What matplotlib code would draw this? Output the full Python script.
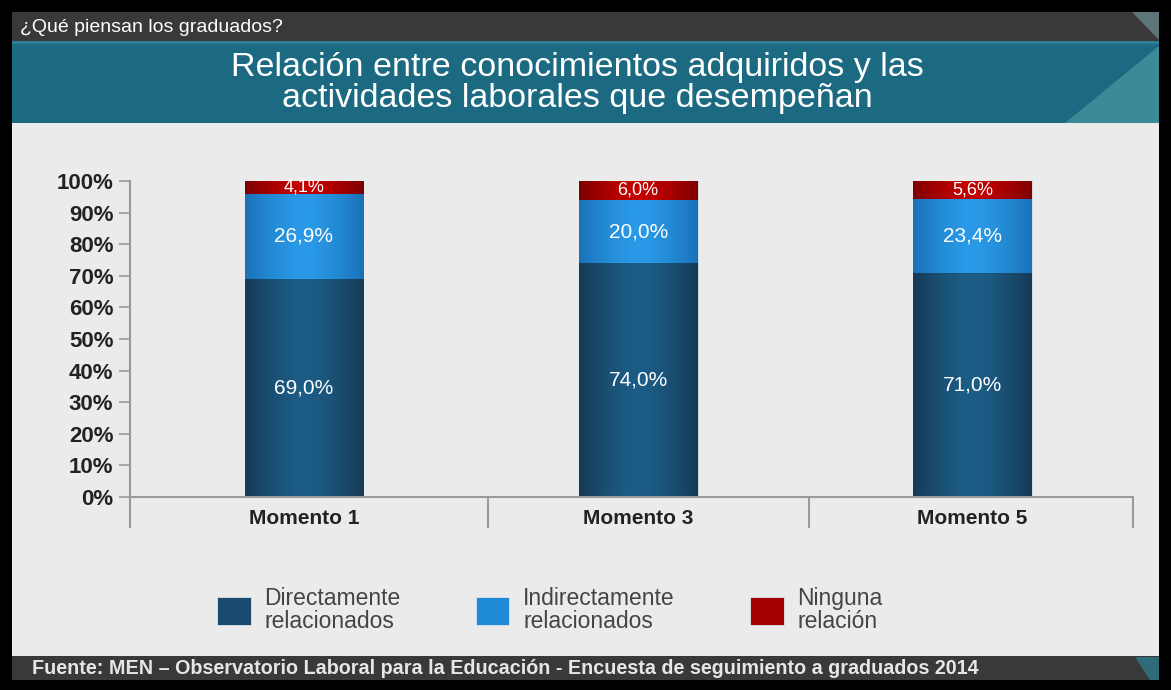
import matplotlib.pyplot as plt
import matplotlib.patches as mpatches
import numpy as np

plt.rcParams['font.family'] = ['Liberation Sans', 'DejaVu Sans']

momentos = ['Momento 1', 'Momento 3', 'Momento 5']
directamente = [69.0, 74.0, 71.0]
indirectamente = [26.9, 20.0, 23.4]
ninguna = [4.1, 6.0, 5.6]
series_names = ['Directamente\nrelacionados', 'Indirectamente\nrelacionados', 'Ninguna\nrelación']

W, H = 1171, 690
fig = plt.figure(figsize=(W / 100, H / 100), dpi=100)
fig.patch.set_facecolor('black')


def box(x0, y0, x1, y1, color):
    # pixel coords measured from the top-left
    fig.add_artist(mpatches.Rectangle((x0 / W, 1 - y1 / H), (x1 - x0) / W, (y1 - y0) / H,
                                      transform=fig.transFigure, color=color, lw=0, zorder=0))


def poly(pts, color):
    fig.add_artist(mpatches.Polygon([(x / W, 1 - y / H) for x, y in pts], closed=True,
                                    transform=fig.transFigure, color=color, lw=0, zorder=0.5))


# panels
box(12, 12, 1159, 43, '#393939')
box(12, 43, 1159, 123, '#1b6a82')
box(12, 41, 1159, 44, '#2c7f95')
box(12, 123, 1159, 656, '#ebebeb')
box(12, 656, 1159, 680, '#393939')
poly([(1065, 123), (1159, 46), (1159, 123)], '#3a8a98')
poly([(1132, 12), (1159, 12), (1159, 40)], '#5d7479')
poly([(1135, 657), (1159, 657), (1159, 680), (1150, 680)], '#2f6c78')

fig.text(20 / W, 1 - 27 / H, '¿Qué piensan los graduados?', color='white', fontsize=14,
         va='center', ha='left')
fig.text(577 / W, 1 - 83 / H, 'Relación entre conocimientos adquiridos y las\nactividades laborales que desempeñan',
         color='white', fontsize=24.5, va='center', ha='center', linespacing=0.98)
fig.text(32 / W, 1 - 668 / H,
         'Fuente: MEN – Observatorio Laboral para la Educación - Encuesta de seguimiento a graduados 2014',
         color='#e6e6e6', fontsize=14.2, fontweight='bold', va='center', ha='left')

ax = fig.add_axes([130 / W, 1 - 497 / H, (1133 - 130) / W, (497 - 181) / H])
ax.set_facecolor('none')

x = np.arange(len(momentos))
width = 0.355
colors = ['#1a4b6e', '#1f8ad8', '#a60000']
edges = ['#163a56', '#1a72b8', '#7e0000']
centers = ['#1c5d86', '#2a9ae8', '#c40000']

bottoms = np.zeros(len(momentos))
handles = []
for vals, c, ce, cm, name in zip([directamente, indirectamente, ninguna], colors, edges, centers, series_names):
    bars = ax.bar(x, vals, width, bottom=bottoms, color=c, edgecolor='#dbe7ef', linewidth=0.6,
                  label=name, zorder=2)
    grad = np.abs(np.linspace(-1, 1, 64)) ** 1.5
    cmap = plt.matplotlib.colors.LinearSegmentedColormap.from_list('g', [cm, ce])
    for b, v, b0 in zip(bars, vals, bottoms):
        im = ax.imshow(grad[None, :], cmap=cmap, aspect='auto', zorder=2.5,
                       extent=(b.get_x(), b.get_x() + b.get_width(), b0, b0 + v))
        im.set_clip_path(b)
        fs = 13 if v < 10 else 15
        ax.text(b.get_x() + b.get_width() / 2, b0 + v / 2, f'{v:.1f}%'.replace('.', ','),
                ha='center', va='center', color='white', fontsize=fs, zorder=3)
    handles.append(bars)
    bottoms += np.array(vals)

ax.set_xlim(-0.52, 2.48)
ax.set_ylim(0, 100)
ax.set_yticks(np.arange(0, 101, 10))
ax.set_yticklabels([f'{t}%' for t in range(0, 101, 10)], fontsize=16, fontweight='bold', color='#222222')
ax.set_xticks(x)
ax.set_xticklabels(momentos, fontsize=15, fontweight='bold', color='#222222')
ax.set_xticks([-0.52, 0.55, 1.51, 2.48], minor=True)
ax.tick_params(axis='x', which='major', length=0, pad=9)
ax.tick_params(axis='x', which='minor', length=22, width=1.5, color='#9a9a9a')
ax.tick_params(axis='y', length=8, width=1.2, color='#9a9a9a', pad=4)
for s in ['top', 'right']:
    ax.spines[s].set_visible(False)
ax.spines['left'].set_color('#9a9a9a')
ax.spines['left'].set_linewidth(1.5)
ax.spines['bottom'].set_color('#9a9a9a')
ax.spines['bottom'].set_linewidth(1.5)

leg = fig.legend(handles=handles, labels=series_names, loc='center', bbox_to_anchor=(550 / W, 1 - 610 / H),
                 ncol=3, frameon=False, fontsize=16.5, labelcolor='#444444', handlelength=1.45,
                 handleheight=1.5, handletextpad=0.6, columnspacing=3.3)
for t in leg.get_texts():
    t.set_linespacing(0.95)

fig.savefig('out.png', dpi=100, facecolor=fig.get_facecolor())
